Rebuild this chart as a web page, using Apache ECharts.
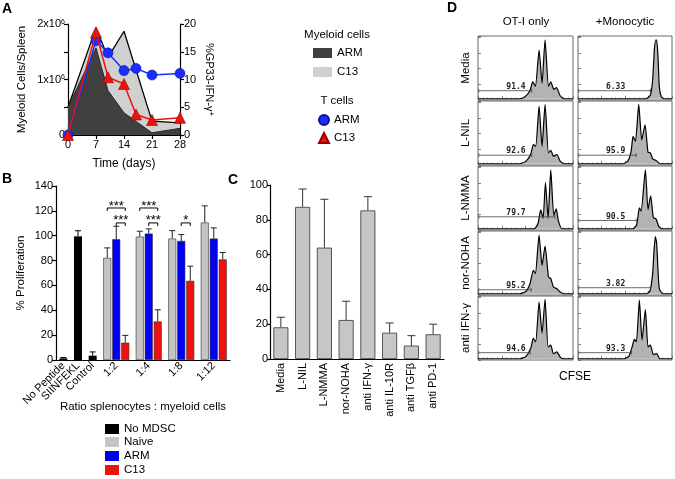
<!DOCTYPE html>
<html><head><meta charset="utf-8">
<script src="https://cdn.jsdelivr.net/npm/echarts@6/dist/echarts.min.js"></script>
<style>html,body{margin:0;padding:0;background:#fff}#c{width:675px;height:479px}</style>
</head><body><div id="c"></div>
<script>
// ---------- Panel A ----------
const tDays = [0, 7, 10, 14, 17, 21, 28];
const tCellArm = [0, 17, 14.8, 11.6, 12.0, 10.8, 11.1];
const tCellC13 = [0, 18.5, 10.4, 9.2, 3.7, 2.7, 3.1];
const myeloidDays = [0, 7, 10, 14, 21, 28];
const myeloidArm = [0.5e6, 1.57e6, 0.8e6, 0.4e6, 0.04e6, 0.12e6];
const myeloidC13 = [0.5e6, 1.93e6, 1.4e6, 1.87e6, 0.25e6, 0.22e6];

// ---------- Panel B ----------
const bControlCats = ['No Peptide', 'SIINFEKL', 'Control'];
const bNoMdsc = [1.3, 99.5, 3.5];
const bNoMdscErr = [2, 104, 6.5];
const bRatioCats = ['1:2', '1:4', '1:8', '1:12'];
const bNaive = [82.2, 99.3, 97.7, 110.6];
const bNaiveErr = [90.2, 103.6, 104.1, 124];
const bArm = [97.2, 101.7, 95.8, 97.7];
const bArmErr = [107.6, 105.5, 100.9, 106.3];
const bC13 = [13.9, 31, 63.7, 80.9];
const bC13Err = [19.8, 40.4, 75.5, 86.5];
// [ratio index, from bar, to bar, height]
const sigBrackets = [[0, 0, 2, 122.3], [0, 1, 2, 110.3], [1, 0, 2, 122.3], [1, 1, 2, 110.3], [2, 1, 2, 110.3]];
const sigLabels = ['***', '***', '***', '***', '*'];

// ---------- Panel C ----------
const cCats = ['Media', 'L-NIL', 'L-NMMA', 'nor-NOHA', 'anti IFN-γ', 'anti IL-10R', 'anti TGFβ', 'anti PD-1'];
const cVals = [18.2, 87.4, 64, 22.4, 85.4, 15.1, 7.7, 14.2];
const cErr = [24, 97.7, 91.8, 33.2, 93.3, 20.7, 13.4, 20];

// ---------- Panel D ----------
const dRows = ['Media', 'L-NIL', 'L-NMMA', 'nor-NOHA', 'anti IFN-γ'];
const dCols = ['OT-I only', '+Monocytic'];
const hMediaOT = [[0,0],[44.1,0],[49.4,3.2],[54.7,12.8],[57.6,27],[60.4,20],[64.3,77.7],[67.4,24.5],[70.6,93.6],[74.2,20],[76.6,27],[79.8,15],[82.6,17.6],[86.5,4.8],[90.7,0],[100,0]];
const hMediaMono = [[0,0],[72.4,0],[77,5.9],[79.4,29.8],[81.2,77.7],[82.6,93.6],[83.7,93.6],[85.1,67],[86.5,19],[88.6,3.2],[91.8,0],[100,0]];
const hLnilOT = [[0,0],[44.1,0],[50.5,4.2],[55.4,14.7],[58.3,30.4],[60.7,27.7],[64.3,91.6],[67.4,27.7],[70.6,94.2],[74.2,17.3],[76.6,21.5],[79.4,12],[83,14.7],[86.5,4.2],[90.7,0],[100,0]];
const hLnilMono = [[0,0],[47.7,0],[53,4.2],[56.5,19.9],[58.6,43.5],[61.1,35.6],[64.6,94.8],[67.8,38.2],[71.3,61.8],[74.5,18.3],[77,17.3],[79.4,7.9],[83,5.2],[87.2,0],[100,0]];
const hLnmmaOT = [[0,0],[59,0],[63.2,8.4],[66,30],[68.5,16.8],[71,73.7],[73.8,16.8],[76.6,93.7],[79.8,21],[82.3,31.6],[84.7,12.1],[88.3,0],[100,0]];
const hLnmmaMono = [[0,0],[58.3,0],[62.5,6.8],[65.3,33.2],[67.1,27.9],[71.7,93.7],[74.5,30.5],[77.3,52.6],[80.2,17.4],[83,15.8],[85.8,4.2],[89.3,0],[100,0]];
const hNorOT = [[0,0],[44.1,0],[50.5,3.7],[54.7,16],[58.3,37.4],[60.4,32.1],[64.3,93.6],[67.4,45],[70.6,75.9],[74.2,26.7],[76.6,24.1],[79.4,10.7],[83,8],[86.5,2.7],[90,0],[100,0]];
const hNorMono = [[0,0],[72.4,0],[76.6,4.3],[79.4,32.1],[80.9,69.5],[82.3,90.9],[83.7,80.2],[85.1,37.4],[86.5,8],[89.3,1.1],[91.8,0],[100,0]];
const hIfnOT = [[0,0],[44.1,0],[50.5,3.8],[55.4,16.2],[58.3,32.4],[60.7,27],[64.3,90.3],[67.4,40.5],[70.6,94.6],[73.8,18.9],[76.6,21.6],[79.4,8.1],[83,10.8],[86.5,2.7],[90,0],[100,0]];
const hIfnMono = [[0,0],[49.4,0],[54,3.8],[57.6,18.9],[60,30.8],[62.1,27],[65.3,93.5],[68.1,29.7],[71.7,78.4],[74.5,18.9],[77,21.6],[80.2,7],[83.7,8.1],[87.2,0],[100,0]];
const histograms = [[hMediaOT, hMediaMono], [hLnilOT, hLnilMono], [hLnmmaOT, hLnmmaMono], [hNorOT, hNorMono], [hIfnOT, hIfnMono]];
const gateEnds = [[56.6, 77], [56.6, 62], [81, 62], [56, 77], [55, 57]];
const gateHeights = [[12.8, 12.8], [13.6, 13.6], [19, 13.2], [6.4, 9.6], [9.7, 9.7]];
const gatePct = [['91.4', '6.33'], ['92.6', '95.9'], ['79.7', '90.5'], ['95.2', '3.82'], ['94.6', '93.3']];

// ---------- Build ----------
const FONT = 'Liberation Sans';
const BLK = '#000';
const legendNames = {mARM: 'ARM', mC13: 'C13', tARM: 'ARM', tC13: 'C13', 'No MDSC': 'No MDSC', Naive: 'Naive', bARM: 'ARM', bC13: 'C13'};
const zip = (a, b) => a.map((v, i) => [v, b[i]]);

const grids = [], xAxes = [], yAxes = [], series = [], graphics = [];

function txt(text, x, y, size, opts) {
  opts = opts || {};
  graphics.push({
    type: 'text', x: x, y: y, rotation: opts.rot || 0, silent: true,
    style: {
      text: text, fill: '#000', fontFamily: FONT, fontSize: size, fontWeight: opts.bold ? 'bold' : 'normal',
      align: opts.align || 'center', verticalAlign: 'middle',
      textAlign: opts.align || 'center', textVerticalAlign: 'middle'
    }
  });
}

const axisLineStyle = {show: true, lineStyle: {color: BLK, width: 1.2}};
const labelStyle = {color: BLK, fontSize: 11, fontFamily: FONT};

// Panel A grid 0
grids.push({left: 68, top: 24, width: 112, height: 111});
xAxes.push({type: 'value', gridIndex: 0, min: 0, max: 28, interval: 7,
  axisLine: axisLineStyle, axisTick: {length: 4, lineStyle: {color: BLK, width: 1.2}},
  axisLabel: Object.assign({margin: 4}, labelStyle), splitLine: {show: false},
  name: 'Time (days)', nameLocation: 'middle', nameGap: 23, nameTextStyle: {fontSize: 12, color: BLK, fontFamily: FONT}});
yAxes.push({type: 'value', gridIndex: 0, min: 0, max: 2e6, interval: 5e5,
  axisLine: axisLineStyle, axisTick: {show: true, length: 4, lineStyle: {color: BLK, width: 1.2}}, splitLine: {show: false},
  axisLabel: Object.assign({margin: 3,
    formatter: v => v === 0 ? '0' : (v % 1e6 === 0 ? '{n|' + (v / 1e6) + 'x10}{s|6}' : ''),
    rich: {n: {fontSize: 11, color: BLK, fontFamily: FONT}, s: {fontSize: 7, color: BLK, fontFamily: FONT, verticalAlign: 'top'}}}, labelStyle),
  name: 'Myeloid Cells/Spleen', nameLocation: 'middle', nameGap: 40, nameRotate: 90,
  nameTextStyle: {fontSize: 11.5, color: BLK, fontFamily: FONT}});
yAxes.push({type: 'value', gridIndex: 0, position: 'right', min: 0, max: 20, interval: 5,
  axisLine: axisLineStyle, axisTick: {show: true, length: 4, lineStyle: {color: BLK, width: 1.2}}, splitLine: {show: false},
  axisLabel: Object.assign({margin: 4}, labelStyle),
  name: '%GP33-IFN-γ{s|+}', nameLocation: 'middle', nameGap: 24, nameRotate: -90,
  nameTextStyle: {fontSize: 11, color: BLK, fontFamily: FONT, rich: {s: {fontSize: 8, color: BLK, fontFamily: FONT, verticalAlign: 'top'}}}});

series.push({name: 'mC13', type: 'line', xAxisIndex: 0, yAxisIndex: 0, data: zip(myeloidDays, myeloidC13),
  symbol: 'none', lineStyle: {color: BLK, width: 1.3}, itemStyle: {color: '#d0d0d0'}, areaStyle: {color: '#d0d0d0', opacity: 1}, z: 1});
series.push({name: 'mARM', type: 'line', xAxisIndex: 0, yAxisIndex: 0, data: zip(myeloidDays, myeloidArm),
  symbol: 'none', lineStyle: {color: '#2a2a2a', width: 1}, itemStyle: {color: '#404040'}, areaStyle: {color: '#404040', opacity: 1}, z: 2});
series.push({name: 'tARM', type: 'line', xAxisIndex: 0, yAxisIndex: 1, data: zip(tDays, tCellArm),
  symbol: 'circle', symbolSize: 10, lineStyle: {color: '#1a2cff', width: 1.5},
  itemStyle: {color: '#1a2cff', borderColor: '#0a1490', borderWidth: 0.6}, z: 3});
series.push({name: 'tC13', type: 'line', xAxisIndex: 0, yAxisIndex: 1, data: zip(tDays, tCellC13),
  symbol: 'triangle', symbolSize: 11, lineStyle: {color: '#ee1111', width: 1.5},
  itemStyle: {color: '#ee1111', borderColor: '#900', borderWidth: 0.6}, z: 4});

// Panel B grids 1,2
grids.push({left: 56, top: 186, width: 44, height: 174});
grids.push({left: 100, top: 186, width: 130, height: 174});
[[bControlCats, 1], [bRatioCats, 2]].forEach(([cats, gi]) => {
  xAxes.push({type: 'category', gridIndex: gi, data: cats, axisLine: axisLineStyle,
    axisTick: {alignWithLabel: true, length: 3, lineStyle: {color: BLK}},
    axisLabel: Object.assign({rotate: 45, margin: 4, interval: 0}, labelStyle)});
});
yAxes.push({type: 'value', gridIndex: 1, min: 0, max: 140, interval: 20,
  axisLine: axisLineStyle, axisTick: {show: true, length: 4, lineStyle: {color: BLK, width: 1.2}}, splitLine: {show: false},
  axisLabel: Object.assign({margin: 3}, labelStyle),
  name: '% Proliferation', nameLocation: 'middle', nameGap: 29, nameRotate: 90,
  nameTextStyle: {fontSize: 11.5, color: BLK, fontFamily: FONT}});
yAxes.push({type: 'value', gridIndex: 2, min: 0, max: 140, interval: 20, show: false});

function errSeries(xi, yi, vals, errs, offset, capHalf, color) {
  return {type: 'custom', xAxisIndex: xi, yAxisIndex: yi, silent: true, z: 6,
    data: vals.map((v, i) => [i, v, errs[i]]),
    renderItem: (p, api) => {
      const c = api.coord([api.value(0), api.value(1)]);
      const e = api.coord([api.value(0), api.value(2)]);
      const x = c[0] + offset;
      return {type: 'group', children: [
        {type: 'line', shape: {x1: x, y1: c[1], x2: x, y2: e[1]}, style: {stroke: color, lineWidth: 1}},
        {type: 'line', shape: {x1: x - capHalf, y1: e[1], x2: x + capHalf, y2: e[1]}, style: {stroke: color, lineWidth: 1}}
      ]};
    }};
}

series.push({name: 'No MDSC', type: 'bar', xAxisIndex: 1, yAxisIndex: 2, data: bNoMdsc, barWidth: 8,
  itemStyle: {color: '#000'}});
series.push(errSeries(1, 2, bNoMdsc, bNoMdscErr, 0, 3, '#000'));
const bGroup = [['Naive', bNaive, bNaiveErr, '#c4c4c4'], ['bARM', bArm, bArmErr, '#0000f5'], ['bC13', bC13, bC13Err, '#f01010']];
const BW = 8, BG = 1;
bGroup.forEach(([nm, vals, errs, col], k) => {
  series.push({name: nm, type: 'bar', xAxisIndex: 2, yAxisIndex: 3, data: vals, barWidth: BW, barGap: '12.5%',
    itemStyle: {color: col, borderColor: '#333', borderWidth: 0.6}});
});
bGroup.forEach(([nm, vals, errs], k) => {
  series.push(errSeries(2, 3, vals, errs, (k - 1) * (BW + BG), 3, '#222'));
});
series.push({type: 'custom', xAxisIndex: 2, yAxisIndex: 3, silent: true, z: 7,
  data: sigBrackets,
  renderItem: (p, api) => {
    const base = api.coord([api.value(0), api.value(3)]);
    const x1 = base[0] + (api.value(1) - 1) * (BW + BG);
    const x2 = base[0] + (api.value(2) - 1) * (BW + BG);
    const y = base[1];
    return {type: 'group', children: [
      {type: 'polyline', shape: {points: [[x1, y + 3], [x1, y], [x2, y], [x2, y + 3]]}, style: {stroke: '#000', lineWidth: 1, fill: null}},
      {type: 'text', x: (x1 + x2) / 2, y: y - 2, style: {text: sigLabels[p.dataIndex], fill: '#000', fontFamily: FONT, fontSize: 13,
        align: 'center', verticalAlign: 'middle', textAlign: 'center', textVerticalAlign: 'middle'}}
    ]};
  }});

// Panel C grid 3
grids.push({left: 270, top: 185, width: 174, height: 174});
xAxes.push({type: 'category', gridIndex: 3, data: cCats, axisLine: axisLineStyle,
  axisTick: {alignWithLabel: true, length: 3, lineStyle: {color: BLK}},
  axisLabel: Object.assign({rotate: 90, margin: 4, interval: 0}, labelStyle)});
yAxes.push({type: 'value', gridIndex: 3, min: 0, max: 100, interval: 20,
  axisLine: axisLineStyle, axisTick: {show: true, length: 3, lineStyle: {color: BLK, width: 1.2}}, splitLine: {show: false},
  axisLabel: Object.assign({margin: 2}, labelStyle)});
series.push({name: 'treatment', type: 'bar', xAxisIndex: 3, yAxisIndex: 4, data: cVals, barWidth: 15,
  itemStyle: {color: '#c6c6c6', borderColor: '#333', borderWidth: 0.8}});
series.push(errSeries(3, 4, cVals, cErr, 0, 4, '#333'));

// Panel D grids
const colLeft = [478, 578], colW = [95, 94];
dRows.forEach((rowName, r) => {
  dCols.forEach((colName, c) => {
    const gi = grids.length;
    grids.push({left: colLeft[c], top: 36 + 65 * r, width: colW[c], height: 64, show: true, borderColor: '#666', borderWidth: 1});
    xAxes.push({type: 'value', gridIndex: gi, min: 0, max: 100, interval: 25,
      axisLine: {show: false}, axisLabel: {show: false}, splitLine: {show: false},
      axisTick: {inside: true, length: 3, lineStyle: {color: '#666', width: 0.8}},
      minorTick: {show: true, splitNumber: 5, length: 1.5, lineStyle: {color: '#888', width: 0.6}}});
    yAxes.push({type: 'value', gridIndex: gi, min: -2, max: 100, interval: 25,
      axisLine: {show: false}, axisLabel: {show: false}, splitLine: {show: false},
      axisTick: {inside: true, length: 3, lineStyle: {color: '#666', width: 0.8}}});
    const xi = xAxes.length - 1, yi = yAxes.length - 1;
    series.push({name: rowName + ' ' + colName, type: 'line', xAxisIndex: xi, yAxisIndex: yi, data: histograms[r][c],
      symbol: 'none', smooth: 0.2, lineStyle: {color: '#000', width: 1.2},
      areaStyle: {color: '#b3b3b3', opacity: 1}, z: 2});
    const pct = gatePct[r][c];
    series.push({type: 'custom', xAxisIndex: xi, yAxisIndex: yi, silent: true, z: 5,
      data: [[gateEnds[r][c], gateHeights[r][c]]],
      renderItem: (p, api) => {
        const a = api.coord([0.8, api.value(1)]);
        const b = api.coord([api.value(0), api.value(1)]);
        const lx = api.coord([40, 0])[0];
        return {type: 'group', children: [
          {type: 'line', shape: {x1: a[0], y1: a[1], x2: b[0], y2: b[1]}, style: {stroke: '#444', lineWidth: 0.8}},
          {type: 'line', shape: {x1: a[0], y1: a[1] - 2, x2: a[0], y2: a[1] + 2}, style: {stroke: '#444', lineWidth: 0.8}},
          {type: 'line', shape: {x1: b[0], y1: b[1] - 2, x2: b[0], y2: b[1] + 2}, style: {stroke: '#444', lineWidth: 0.8}},
          {type: 'text', x: lx, y: a[1] - 4, style: {text: pct, fill: '#222', fontFamily: 'DejaVu Sans Mono', fontWeight: 'bold', fontSize: 8,
            align: 'center', verticalAlign: 'middle', textAlign: 'center', textVerticalAlign: 'middle'}}
        ]};
      }});
  });
  txt(rowName, 466, 68 + 65 * r, 11.5, {rot: Math.PI / 2});
});

// Text labels
txt('A', 2, 9, 14, {bold: true, align: 'left'});
txt('B', 2, 179, 14, {bold: true, align: 'left'});
txt('C', 228, 180, 14, {bold: true, align: 'left'});
txt('D', 447, 8, 14, {bold: true, align: 'left'});
txt('Myeloid cells', 337, 35, 11.5);
txt('T cells', 337, 101, 11.5);
txt('Ratio splenocytes : myeloid cells', 143, 407, 11.5);
txt('OT-I only', 526, 22, 11.5);
txt('+Monocytic', 625, 22, 11.5);
txt('CFSE', 575, 377, 12);

const legendText = {color: BLK, fontSize: 11.5, fontFamily: FONT};
const bLegendNames = ['No MDSC', 'Naive', 'bARM', 'bC13'];
const bLegendTops = [423, 436, 450, 464];
const legends = [
  {left: 313, top: 47, padding: 0, orient: 'vertical', itemWidth: 19, itemHeight: 10, itemGap: 7, selectedMode: false,
    data: [{name: 'mARM', icon: 'rect'}, {name: 'mC13', icon: 'rect'}], formatter: n => legendNames[n], textStyle: legendText,
    itemStyle: {borderWidth: 0}},
  {left: 318, top: 114, padding: 0, orient: 'vertical', itemWidth: 10, itemHeight: 10, itemGap: 6, selectedMode: false,
    data: [{name: 'tARM', icon: 'circle'}, {name: 'tC13', icon: 'triangle'}], formatter: n => legendNames[n], textStyle: legendText}
];
bLegendNames.forEach((nm, i) => {
  legends.push({left: 105, top: bLegendTops[i], padding: 0, orient: 'vertical', itemWidth: 14, itemHeight: 10, selectedMode: false,
    data: [{name: nm, icon: 'rect'}], formatter: n => legendNames[n], textStyle: legendText, itemStyle: {borderWidth: 0}});
});
const option = {
  animation: false,
  backgroundColor: '#fff',
  textStyle: {fontFamily: FONT},
  grid: grids, xAxis: xAxes, yAxis: yAxes, series: series,
  legend: legends,
  graphic: graphics
};
const chart = echarts.init(document.getElementById('c'));
chart.setOption(option);
</script>
</body></html>
